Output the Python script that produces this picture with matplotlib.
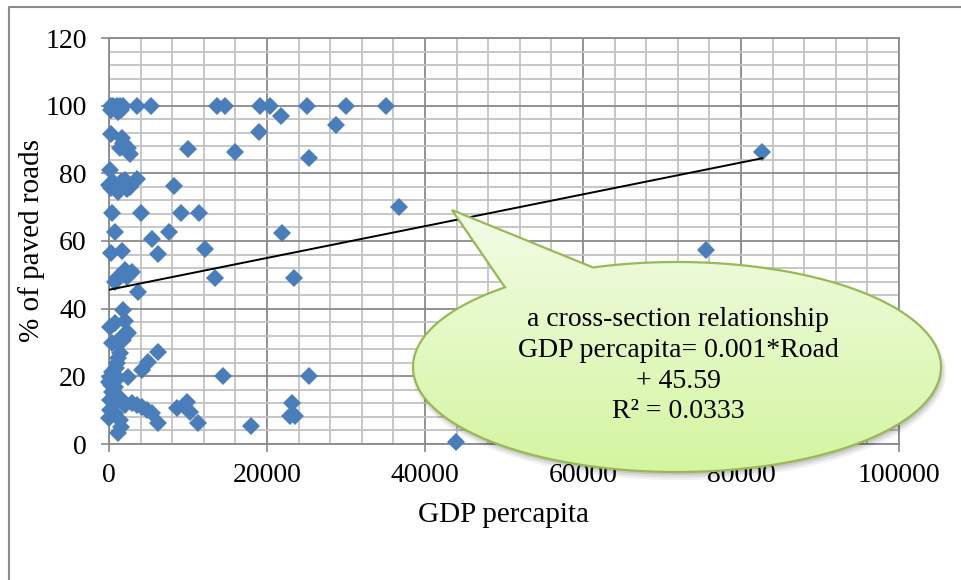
import numpy as np
import matplotlib
matplotlib.use("Agg")
import matplotlib.pyplot as plt
from matplotlib.patches import Polygon
from matplotlib.ticker import MultipleLocator

# GDP per capita (x) and share of paved roads in % (y), one entry per country
gdp = [200, 500, 800, 1000, 1400, 1800, 3500, 5300, 13700, 14700, 19100, 20400,
       25100, 30000, 35100,
       300, 700, 1100, 1500,
       21800, 19000, 28700, 15900, 25300, 10000, 36700, 82700, 75600, 43900,
       200, 1650, 1800, 1400, 2400, 2700,
       130,
       50, 600, 1100, 2000, 2700, 3600, 300, 1500, 2300, 900,
       8200,
       380, 4050, 9100, 11400,
       760, 7600, 5400, 21900,
       250, 1650, 6200, 12150,
       760, 1400, 2000, 2900, 2300, 1000,
       3700, 13400, 23400,
       1800,
       130, 760, 2000, 2300, 2400, 380, 1000, 1650, 1800, 1400, 1150, 1000,
       6200, 4900, 4200, 14400, 25300,
       380, 130, 50, 500, 760, 380, 1150, 2400, 200, 600, 900,
       130, 760, 1400, 2000, 2900, 3500, 4200, 4800, 5400, 130, 760, 50, 1400,
       1150, 1500,
       6200, 8600, 9900, 10250, 11270, 17970, 23170, 22900, 23550]
paved = [100, 100, 99.5, 100, 100, 100, 100, 100, 100, 100, 100, 100,
         100, 100, 100,
         98.6, 99.0, 98.2, 98.8,
         96.9, 92.2, 94.3, 86.3, 84.5, 87.2, 70.1, 86.3, 57.3, 0.6,
         91.6, 90.4, 89.0, 87.5, 87.5, 85.7,
         81.0,
         76.6, 77.1, 74.5, 78.0, 76.0, 78.3, 75.8, 77.5, 75.5, 76.3,
         76.2,
         68.3, 68.3, 68.3, 68.3,
         62.7, 62.7, 60.6, 62.4,
         56.5, 57.0, 56.2, 57.6,
         47.9, 49.8, 51.4, 50.8, 49.4, 49.0,
         44.9, 49.1, 49.1,
         39.6,
         34.6, 35.8, 36.4, 33.1, 32.8, 29.9, 30.1, 31.6, 30.7, 26.9, 25.4, 23.9,
         27.2, 24.2, 21.9, 20.1, 20.1,
         21.3, 19.8, 18.3, 18.9, 16.8, 15.4, 19.5, 19.8, 17.5, 20.5, 22.5,
         13.0, 12.4, 13.6, 11.5, 12.1, 11.5, 10.9, 10.0, 9.2, 10.0, 9.2, 7.7, 7.1,
         3.3, 5.0,
         6.2, 10.6, 12.4, 9.5, 6.2, 5.3, 12.1, 8.3, 8.3]

# linear trend fitted across the cross-section
trend_intercept = 45.59
trend_slope = 0.00047

x_ticks = [0, 20000, 40000, 60000, 80000, 100000]
y_ticks = [0, 20, 40, 60, 80, 100, 120]
x_label = "GDP percapita"
y_label = "% of paved roads"
callout_lines = ["a cross-section relationship",
                 "GDP percapita= 0.001*Road",
                 "+ 45.59",
                 "R² = 0.0333"]

W, H = 961, 580
plt.rcParams['font.family'] = ['Liberation Serif', 'DejaVu Serif']
fig = plt.figure(figsize=(W / 100, H / 100), dpi=100)
fig.patch.set_facecolor('white')

GRID_MAJOR = '#8a8a8a'
GRID_MINOR = '#c3c3c3'

ax = fig.add_axes([109 / W, 1 - 444 / H, 790 / W, 406 / H])
ax.set_xlim(x_ticks[0], x_ticks[-1])
ax.set_ylim(y_ticks[0], y_ticks[-1])
ax.set_xticks(x_ticks)
ax.set_yticks(y_ticks)
ax.set_xticklabels([str(v) for v in x_ticks])
ax.set_yticklabels([str(v) for v in y_ticks])
ax.xaxis.set_minor_locator(MultipleLocator(4000))
ax.yaxis.set_minor_locator(MultipleLocator(4))
ax.set_axisbelow(True)
ax.grid(which='minor', color=GRID_MINOR, lw=1.3)
ax.grid(which='major', color=GRID_MAJOR, lw=1.3)
ax.tick_params(which='major', direction='out', length=6, width=1.2,
               color=GRID_MAJOR, labelsize=20)
ax.tick_params(axis='y', pad=10)
ax.tick_params(axis='x', pad=8)
ax.tick_params(which='minor', length=0)
for s in ax.spines.values():
    s.set_color(GRID_MAJOR)
    s.set_linewidth(1.3)
ax.set_xlabel(x_label, fontsize=21, labelpad=10)
ax.set_ylabel(y_label, fontsize=21, labelpad=0)

ax.plot(gdp, paved, linestyle='none', marker='D', markersize=9,
        color='#4a7ebb', markeredgewidth=0, zorder=3, clip_on=False)

xs = np.array([min(gdp), max(gdp)])
ax.plot(xs, trend_intercept + trend_slope * xs, color='black', lw=1.4, zorder=4)

# overlay in pixel coordinates for the chart frame and the speech-bubble callout
ov = fig.add_axes([0, 0, 1, 1], zorder=10)
ov.set_xlim(0, W)
ov.set_ylim(H, 0)
ov.axis('off')
ov.patch.set_visible(False)

ov.plot([9, 9, W], [H, 7, 7], color='#8c8c8c', lw=1.5, solid_capstyle='butt')

cx, cy, a, b = 677, 367, 264, 105
tip = (452, 210)
base_left_x, base_right_x = 505, 593


def top_angle(px):
    c = (px - cx) / a
    return np.arctan2(-np.sqrt(1 - c * c), c)


t_right = top_angle(base_right_x)
t_left = top_angle(base_left_x) + 2 * np.pi
t = np.linspace(t_right, t_left, 400)
pts = np.column_stack([cx + a * np.cos(t), cy + b * np.sin(t)])
pts = np.vstack([pts, [tip]])

# soft drop shadow
for off, alpha, grow in [(5, 0.06, 3), (4, 0.08, 1.5), (3, 0.10, 0)]:
    sh = pts.copy()
    sh[:, 0] = cx + (sh[:, 0] - cx) * (1 + grow / a) + off * 0.4
    sh[:, 1] = cy + (sh[:, 1] - cy) * (1 + grow / b) + off
    ov.add_patch(Polygon(sh, closed=True, facecolor='black', edgecolor='none',
                         alpha=alpha, zorder=1))

bubble = Polygon(pts, closed=True, facecolor='none', edgecolor='#98b954',
                 lw=1.6, zorder=3)
ov.add_patch(bubble)

top_c = np.array([0.95, 0.99, 0.91])
bot_c = np.array([0.83, 0.96, 0.62])
f = np.linspace(0, 1, 256)[:, None]
grad = (top_c * (1 - f) + bot_c * f)[:, None, :]
im = ov.imshow(grad, extent=(cx - a - 5, cx + a + 5, cy + b + 5, tip[1] - 5),
               origin='upper', aspect='auto', zorder=2, interpolation='bilinear')
im.set_clip_path(bubble)
ov.set_xlim(0, W)
ov.set_ylim(H, 0)

baselines = [326, 357, 388, 418]
for line, yb in zip(callout_lines, baselines):
    ov.text(678, yb, line, ha='center', va='baseline', fontsize=20,
            color='black', zorder=4)

fig.savefig('out.png', dpi=100, facecolor='white')
